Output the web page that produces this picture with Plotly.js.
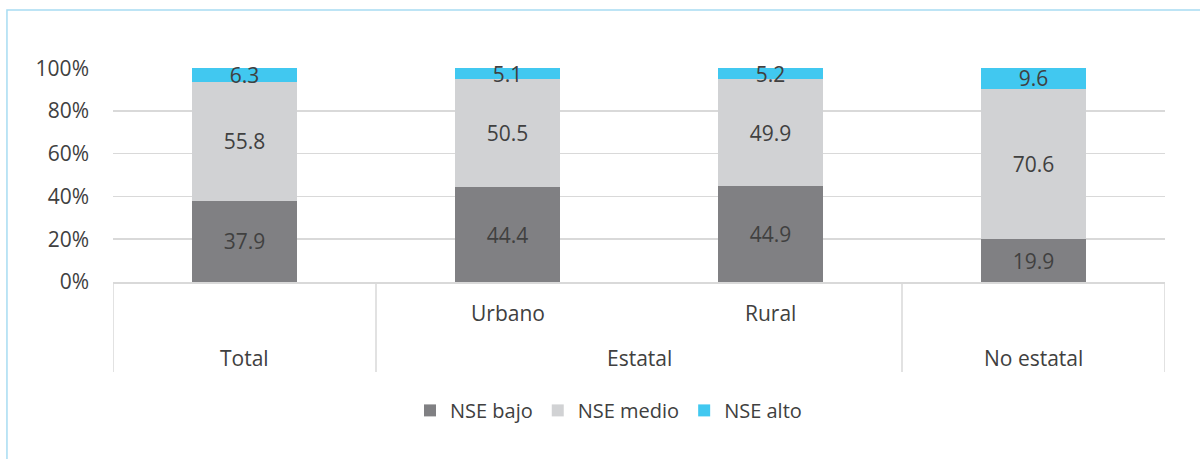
<!DOCTYPE html>
<html>
<head>
<meta charset="utf-8">
<script src="https://cdn.plot.ly/plotly-3.0.1.min.js"></script>
<style>html,body{margin:0;padding:0;background:#fff;}#chart{width:1200px;height:459px;}</style>
</head>
<body>
<div id="chart"></div>
<script>
const categories = ["Total", "Urbano", "Rural", "No estatal"];
const innerLabels = ["", "Urbano", "Rural", ""];
const outerGroups = [
  {label: "Total", start: 0, end: 0},
  {label: "Estatal", start: 1, end: 2},
  {label: "No estatal", start: 3, end: 3}
];
const nseBajo = [37.9, 44.4, 44.9, 19.9];
const nseMedio = [55.8, 50.5, 49.9, 70.6];
const nseAlto = [6.3, 5.1, 5.2, 9.6];
const seriesNames = ["NSE bajo", "NSE medio", "NSE alto"];
const yTicks = [0, 20, 40, 60, 80, 100];

const colors = ["#808083", "#d1d2d4", "#41c8f0"];
const textColor = "#404040";
const font = "'Open Sans', 'Noto Sans', sans-serif";
const fs = 21;

function barTrace(name, vals, color) {
  return {
    type: "bar", name: name, x: categories, y: vals,
    marker: {color: color},
    text: vals.map(v => v.toFixed(1)),
    textposition: "inside", insidetextanchor: "middle",
    constraintext: "none",
    textfont: {family: font, size: fs, color: textColor},
    hoverinfo: "skip", cliponaxis: false
  };
}
const data = [
  barTrace(seriesNames[0], nseBajo, colors[0]),
  barTrace(seriesNames[1], nseMedio, colors[1]),
  barTrace(seriesNames[2], nseAlto, colors[2])
];

const annotations = [];
categories.forEach((c, i) => {
  if (innerLabels[i]) annotations.push({
    x: i, xref: "x", y: -0.145, yref: "paper", text: innerLabels[i],
    showarrow: false, yanchor: "middle",
    font: {family: font, size: fs, color: textColor}
  });
});
outerGroups.forEach(g => annotations.push({
  x: (g.start + g.end) / 2, xref: "x", y: -0.355, yref: "paper", text: g.label,
  showarrow: false, yanchor: "middle",
  font: {family: font, size: fs, color: textColor}
}));

const shapes = [];
const bounds = [-0.5];
outerGroups.forEach(g => bounds.push(g.end + 0.5));
bounds.forEach(b => shapes.push({
  type: "line", xref: "x", yref: "paper", x0: b, x1: b, y0: 0, y1: -0.42,
  line: {color: "#d9d9d9", width: 1.5}
}));
// outer frame
shapes.push({
  type: "rect", xref: "paper", yref: "paper",
  x0: -0.1008, x1: 1.05, y0: 1.271, y1: -1.0,
  line: {color: "#a8dcf2", width: 1.5}, fillcolor: "rgba(0,0,0,0)", layer: "below"
});

const layout = {
  width: 1200, height: 459,
  margin: {l: 113, r: 35, t: 68, b: 177},
  paper_bgcolor: "#ffffff", plot_bgcolor: "#ffffff",
  barmode: "stack", bargap: 0.6,
  font: {family: font, color: textColor},
  showlegend: true,
  legend: {
    orientation: "h", x: 0.471, xanchor: "center", y: -0.6, yanchor: "middle",
    font: {family: font, size: 20, color: textColor}, traceorder: "normal"
  },
  xaxis: {
    type: "category", categoryarray: categories, categoryorder: "array",
    range: [-0.5, 3.5], showticklabels: false, ticks: "",
    showgrid: false, zeroline: false, showline: true, linecolor: "#d9d9d9", linewidth: 1.5,
    fixedrange: true
  },
  yaxis: {
    range: [0, 100.1], tickvals: yTicks, ticktext: yTicks.map(v => v + "%"),
    showgrid: true, gridcolor: "#d9d9d9", gridwidth: 1.5,
    zeroline: false, showline: false, ticks: "", ticklabelstandoff: 23,
    tickfont: {family: font, size: fs, color: textColor}, fixedrange: true
  },
  annotations: annotations,
  shapes: shapes
};

Plotly.newPlot("chart", data, layout, {displayModeBar: false, staticPlot: true});
</script>
</body>
</html>
